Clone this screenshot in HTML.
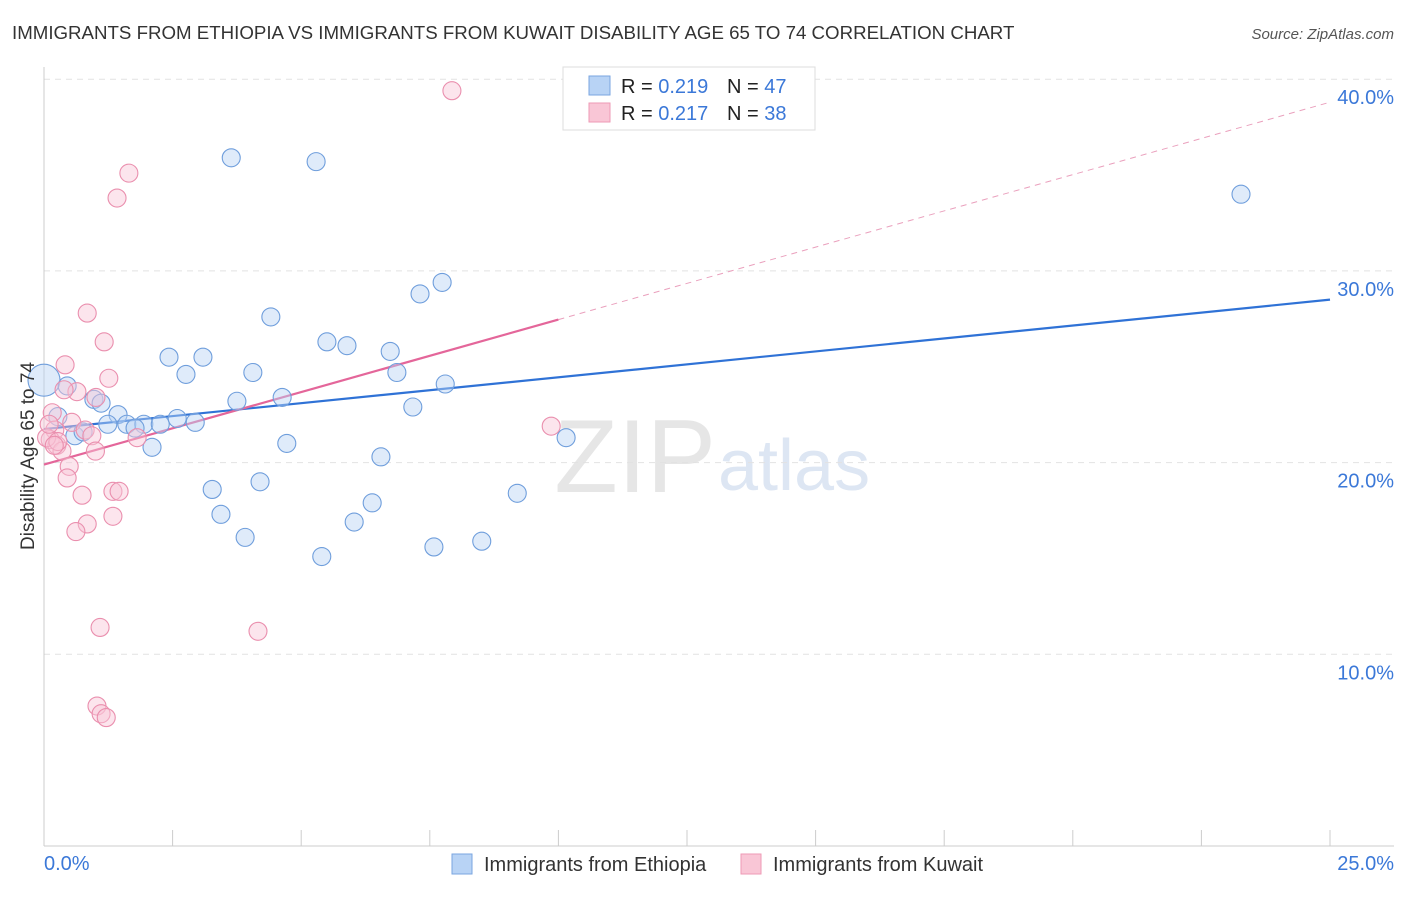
<!DOCTYPE html>
<html><head><meta charset="utf-8"><style>
body{margin:0;background:#fff;font-family:"Liberation Sans",sans-serif;}
svg text{font-family:"Liberation Sans",sans-serif;}
</style></head><body>
<svg id="chart" width="1406" height="892" xmlns="http://www.w3.org/2000/svg">
<text x="12" y="39" font-size="18.7" fill="#333">IMMIGRANTS FROM ETHIOPIA VS IMMIGRANTS FROM KUWAIT DISABILITY AGE 65 TO 74 CORRELATION CHART</text>
<text x="1394" y="39" font-size="15" fill="#555" text-anchor="end" font-style="italic">Source: ZipAtlas.com</text>
<text x="716" y="492" font-size="104" fill="#e6e6e6" text-anchor="end" font-family="Liberation Serif">ZIP</text>
<text x="718" y="490" font-size="72" fill="#dde6f3">atlas</text>
<g id="grid"></g>
<g id="axes"></g>
<g id="lines"></g>
<g id="points"></g>
<text transform="translate(34,456) rotate(-90)" font-size="19" fill="#333" text-anchor="middle">Disability Age 65 to 74</text>
<g>
<rect x="563" y="67" width="252" height="63" fill="#fff" stroke="#ddd"/>
<rect x="589" y="76" width="21" height="19" fill="#b8d3f5" stroke="#7aa6e0"/>
<rect x="589" y="103" width="21" height="19" fill="#f9c6d6" stroke="#ee9ab5"/>
<text x="621" y="93" font-size="20" fill="#222">R = <tspan fill="#3b78d8">0.219</tspan></text>
<text x="727" y="93" font-size="20" fill="#222">N = <tspan fill="#3b78d8">47</tspan></text>
<text x="621" y="120" font-size="20" fill="#222">R = <tspan fill="#3b78d8">0.217</tspan></text>
<text x="727" y="120" font-size="20" fill="#222">N = <tspan fill="#3b78d8">38</tspan></text>
</g>
<g>
<rect x="452" y="854" width="20" height="20" fill="#b8d3f5" stroke="#7aa6e0"/>
<text x="484" y="871" font-size="20" fill="#333">Immigrants from Ethiopia</text>
<rect x="741" y="854" width="20" height="20" fill="#f9c6d6" stroke="#ee9ab5"/>
<text x="773" y="871" font-size="20" fill="#333">Immigrants from Kuwait</text>
</g>
</svg>
<script>
const yTicks=[10,20,30,40];
const yTickLabels=["10.0%","20.0%","30.0%","40.0%"];
const xTickLabels=["0.0%","25.0%"];
const ethX=[3.64,5.29,23.27,7.74,7.31,4.41,5.50,5.89,6.73,2.43,3.09,2.76,4.06,6.86,7.80,0,0.45,0.97,1.11,3.75,4.63,7.17,0.27,1.44,1.24,1.61,1.94,1.77,2.26,2.59,2.94,0.60,0.76,10.15,2.10,4.72,6.55,3.27,4.20,9.20,6.38,3.44,6.03,3.91,8.51,7.58,5.40];
const ethY=[35.9,35.7,34.0,29.4,28.8,27.6,26.3,26.1,25.8,25.5,25.5,24.6,24.7,24.7,24.1,24.3,24.0,23.3,23.1,23.2,23.4,22.9,22.4,22.5,22.0,22.0,22.0,21.8,22.0,22.3,22.1,21.4,21.6,21.3,20.8,21.0,20.3,18.6,19.0,18.4,17.9,17.3,16.9,16.1,15.9,15.6,15.1];
const kuwX=[7.93,1.65,1.42,0.84,1.17,0.41,1.26,0.64,1.01,0.39,0.16,0.54,0.21,0.80,0.93,1.81,0.12,0.25,0.35,1.00,0.49,0.45,0.74,1.34,1.46,0.84,1.34,0.62,9.86,1.09,4.16,1.03,1.11,1.21,0.05,0.27,0.10,0.20];
const kuwY=[39.4,35.1,33.8,27.8,26.3,25.1,24.4,23.7,23.4,23.8,22.6,22.1,21.7,21.7,21.4,21.3,21.2,20.9,20.6,20.6,19.8,19.2,18.3,18.5,18.5,16.8,17.2,16.4,21.9,11.4,11.2,7.3,6.9,6.7,21.3,21.1,22.0,20.9];
const ethTrend=[21.75,28.5];
const kuwTrend=[19.9,38.8];
const kuwSolidEnd=10;
const NS="http://www.w3.org/2000/svg";
const xs=v=>44+v*51.44, ys=v=>846-v*19.17;
function mk(tag,attrs,parent){const e=document.createElementNS(NS,tag);for(const k in attrs)e.setAttribute(k,attrs[k]);document.getElementById(parent).appendChild(e);return e;}
yTicks.forEach((t,i)=>{
 const l=mk('line',{x1:44,x2:1394,y1:ys(t),y2:ys(t),stroke:'#e2e2e2','stroke-dasharray':'6,5'},'grid');
 
 
 const tx=mk('text',{x:1394,y:ys(t)+25,'font-size':20,fill:'#3b78d8','text-anchor':'end'},'grid');
 tx.textContent=yTickLabels[i];
 
 
});
let a=mk('line',{x1:44,x2:44,y1:67,y2:846,stroke:'#ccc'},'axes');


a=mk('line',{x1:44,x2:1394,y1:846,y2:846,stroke:'#ccc'},'axes');


for(let i=0;i<=10;i++){const t=mk('line',{x1:xs(i*2.5),x2:xs(i*2.5),y1:830,y2:846,stroke:'#ccc'},'axes');
 
 }
[[0,'start',44],[25,'end',1394]].forEach((d,i)=>{const t=mk('text',{x:d[2],y:870,'font-size':20,fill:'#3b78d8','text-anchor':d[1]},'axes');t.textContent=xTickLabels[i];
 
 });
function pts(X,Y,fill,stroke,name){X.forEach((x,i)=>{const r=(x===0)?16:9;const c=mk('circle',{cx:xs(x),cy:ys(Y[i]),r:r,fill:fill,'fill-opacity':0.45,stroke:stroke,'stroke-width':1.1},'points');
 
 });}
pts(ethX,ethY,'#b8d3f5','#6f9edc','ethiopia-point');
pts(kuwX,kuwY,'#f9c6d6','#ea8fae','kuwait-point');
let ln=mk('line',{x1:xs(0),y1:ys(ethTrend[0]),x2:xs(25),y2:ys(ethTrend[1]),stroke:'#2f72d6','stroke-width':2.2},'lines');


const ky=v=>kuwTrend[0]+(kuwTrend[1]-kuwTrend[0])*v/25;
ln=mk('line',{x1:xs(0),y1:ys(ky(0)),x2:xs(kuwSolidEnd),y2:ys(ky(kuwSolidEnd)),stroke:'#e4669a','stroke-width':2.2},'lines');


ln=mk('line',{x1:xs(kuwSolidEnd),y1:ys(ky(kuwSolidEnd)),x2:xs(25),y2:ys(ky(25)),stroke:'#eaa0bd','stroke-width':1,'stroke-dasharray':'6,5'},'lines');


</script>
</body></html>
